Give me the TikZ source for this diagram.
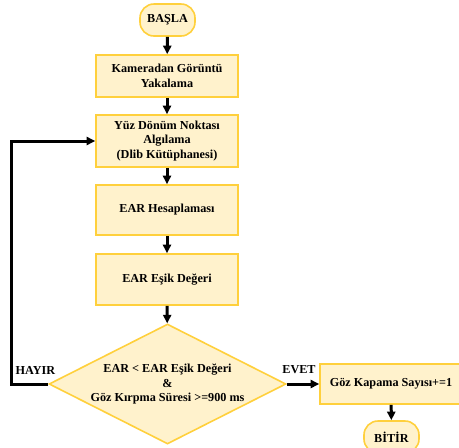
\documentclass[tikz,border=0pt]{standalone}
\usepackage{fontspec}
\setmainfont{Liberation Serif}
\usetikzlibrary{shapes.geometric,arrows.meta}

\definecolor{boxfill}{RGB}{255,242,204}
\definecolor{boxline}{RGB}{255,208,60}

\tikzset{
  every node/.style={font=\bfseries\fontsize{12.2}{14.5}\selectfont, text=black},
  procbox/.style={draw=boxline, fill=boxfill, line width=1.6pt, rectangle,
    minimum width=142pt, inner sep=2pt, align=center},
  termbox/.style={draw=boxline, fill=boxfill, line width=1.6pt, rectangle,
    rounded corners=14pt, minimum width=55pt, minimum height=32pt, inner sep=2pt},
  decbox/.style={draw=boxline, fill=boxfill, line width=1.6pt, diamond,
    aspect=1.975, minimum width=237pt, minimum height=120pt, inner sep=0pt, align=center},
  flow/.style={line width=3pt, -{Triangle[length=8.5pt,width=8pt]}},
  plainlbl/.style={inner sep=0pt}
}

\begin{document}
\begin{tikzpicture}[x=1pt,y=-1pt]
  \useasboundingbox (0,0) rectangle (459,448);
  \clip (0,0) rectangle (459,448);
  \fill[white] (0,0) rectangle (459,448);

  % main column
  \node[termbox] (start) at (167.5,20) {BAŞLA};
  \node[procbox, minimum height=42pt] (cam) at (167,76) {Kameradan Görüntü\\Yakalama};
  \node[procbox, minimum height=52pt] (lmk) at (167,141) {Yüz Dönüm Noktası\\Algılama\\(Dlib Kütüphanesi)};
  \node[procbox, minimum height=50pt] (ear) at (167,210) {EAR Hesaplaması};
  \node[procbox, minimum height=51pt] (thr) at (167,279.5) {EAR Eşik Değeri};
  \node[decbox] (dec) at (167.5,384) {EAR < EAR Eşik Değeri\\\&\\Göz Kırpma Süresi >=900 ms};

  % yes branch
  \node[procbox, minimum width=142pt, minimum height=40pt] (cnt) at (391,384) {Göz Kapama Sayısı+=1};
  \node[termbox] (stop) at (391.5,437) {BİTİR};

  % connectors
  \draw[flow] (start) -- (cam);
  \draw[flow] (cam) -- (lmk);
  \draw[flow] (lmk) -- (ear);
  \draw[flow] (ear) -- (thr);
  \draw[flow] (thr) -- (dec);
  \draw[flow] (dec.east) -- (cnt.west);
  \draw[flow] (cnt) -- (stop);

  % no branch loops back to landmark detection
  \coordinate (loopbot) at (11,384);
  \coordinate (looptop) at (11,141);
  \draw[flow] (dec.west) -- (loopbot) -- (looptop) -- (lmk.west);

  % branch labels
  \node[plainlbl] (nolbl) at (35.5,370) {HAYIR};
  \node[plainlbl] (yeslbl) at (299,370) {EVET};
\end{tikzpicture}
\end{document}
